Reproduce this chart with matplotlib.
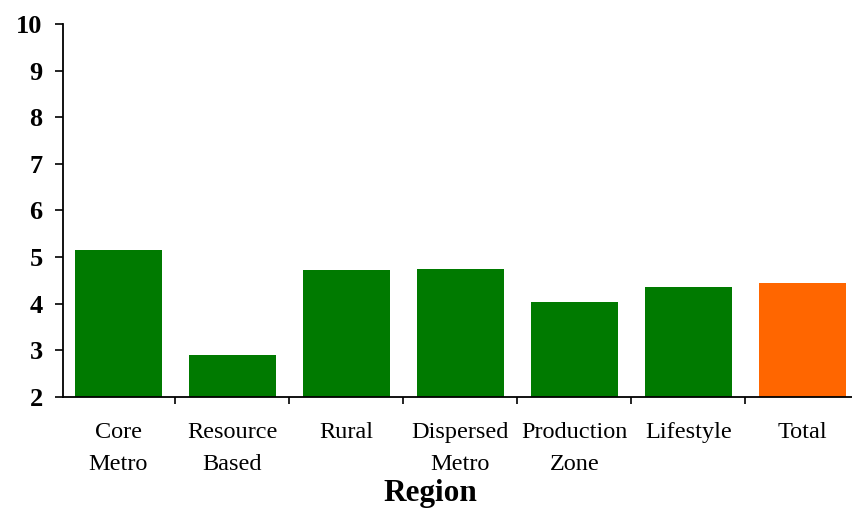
import numpy as np
import matplotlib
matplotlib.use("Agg")
import matplotlib.pyplot as plt

plt.rcParams['font.family'] = ['Liberation Serif', 'DejaVu Serif']

regions = ["Core\nMetro", "Resource\nBased", "Rural", "Dispersed\nMetro",
           "Production\nZone", "Lifestyle", "Total"]
values = [5.15, 2.90, 4.71, 4.75, 4.04, 4.35, 4.45]
bar_colors = ["#007a00"] * 6 + ["#ff6600"]

W, H = 852, 509
fig = plt.figure(figsize=(W / 100, H / 100), dpi=100)
# axes runs a little past the right edge of the figure
ax = fig.add_axes([63.5 / W, (H - 396.7) / H, (859.5 - 63.5) / W, (396.7 - 24) / H])

x = np.arange(len(regions))
ax.bar(x, np.array(values) - 2, bottom=2, width=0.76, color=bar_colors)

ax.set_ylim(2, 10)
ax.set_xlim(-0.48, 6.5)

for s in ["top", "right"]:
    ax.spines[s].set_visible(False)
for s in ["left", "bottom"]:
    ax.spines[s].set_linewidth(1.3)
    ax.spines[s].set_color("black")

ax.set_yticks(range(2, 11))
ax.tick_params(axis="y", direction="out", length=6, width=1.2, pad=9,
               labelsize=19)
for lbl in ax.get_yticklabels():
    lbl.set_fontweight("bold")

# tick marks between categories, labels under the bars
ax.set_xticks(x[:-1] + 0.5)
ax.set_xticklabels([])
ax.tick_params(axis="x", which="major", direction="out", length=5, width=1.2)
ax.set_xticks(x, minor=True)
ax.set_xticklabels(regions, minor=True, fontsize=17.5, linespacing=1.7)
ax.tick_params(axis="x", which="minor", length=0, pad=18)

fig.text(430 / W, 1 - 494 / H, "Region", ha="center", va="center",
         fontsize=22.5, fontweight="bold")

fig.savefig("out.png", dpi=100)
